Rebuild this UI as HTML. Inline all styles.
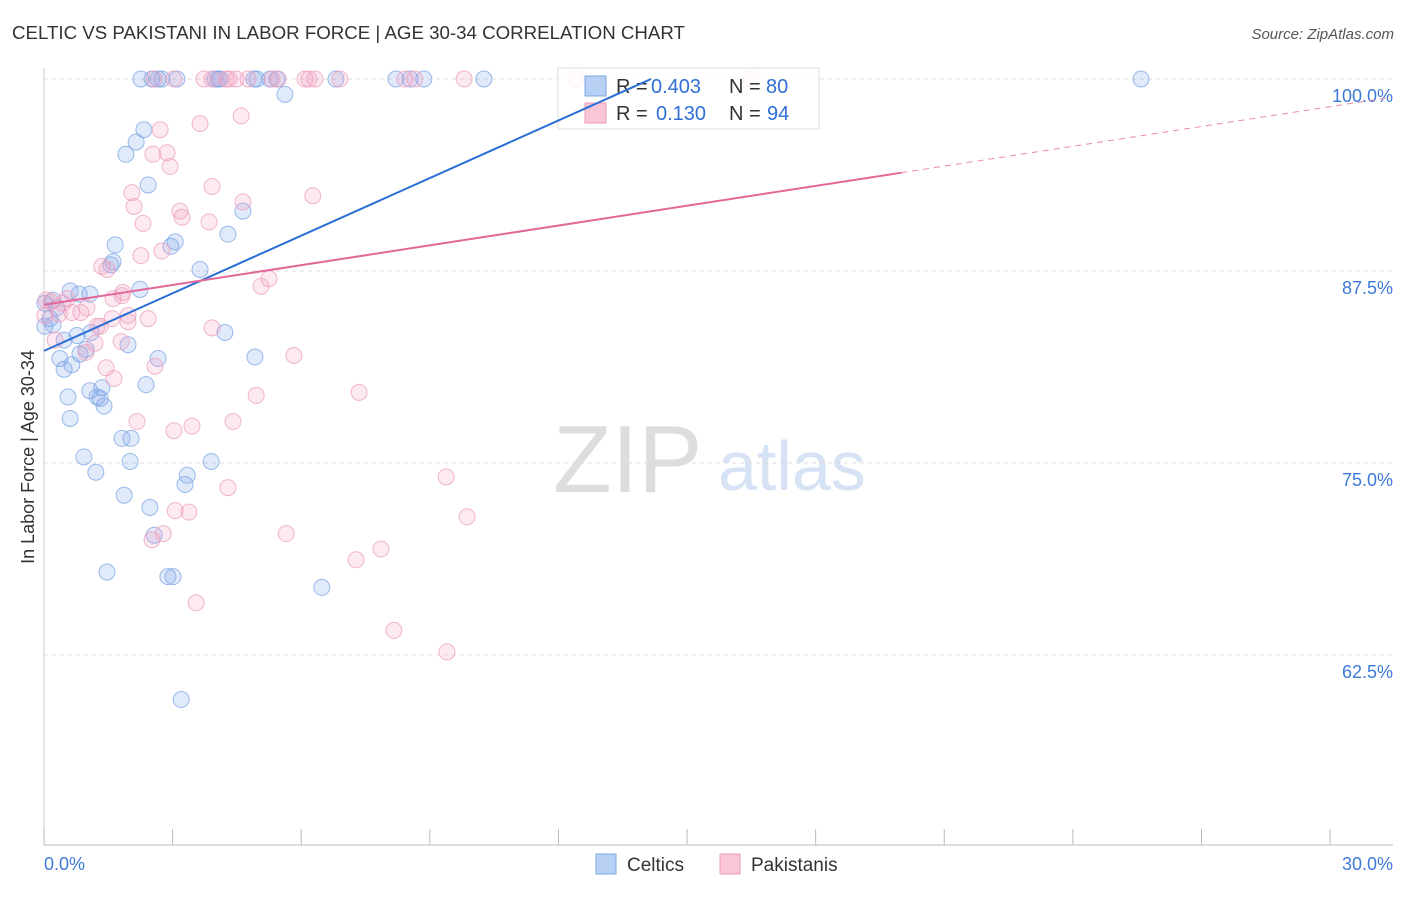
<!DOCTYPE html>
<html><head><meta charset="utf-8">
<style>
body{margin:0;background:#fff;font-family:"Liberation Sans",sans-serif;}
svg text{font-family:"Liberation Sans",sans-serif;}
</style></head>
<body>
<svg id="chart" width="1406" height="892" xmlns="http://www.w3.org/2000/svg">
<text x="12" y="39" font-size="18.7" fill="#333">CELTIC VS PAKISTANI IN LABOR FORCE | AGE 30-34 CORRELATION CHART</text>
<text x="1394" y="39" font-size="15" fill="#555" text-anchor="end" font-style="italic">Source: ZipAtlas.com</text>
<text transform="translate(34,457) rotate(-90)" font-size="18" fill="#333" text-anchor="middle">In Labor Force | Age 30-34</text>
<g><text x="553" y="492" font-size="96" fill="#ddd" font-family="Liberation Serif,serif">ZIP</text><text x="718" y="490" font-size="70" fill="#d6e3f5">atlas</text></g>
<g id="grid"></g>
<g id="axes"></g>
<g id="pts"></g>
<g>
<rect x="558" y="68" width="261" height="61" fill="#fff" fill-opacity="0.85" stroke="#ddd"/>
<rect x="585" y="76" width="21" height="20" fill="#b8d0f4" stroke="#7ea6e6"/>
<rect x="585" y="103" width="21" height="20" fill="#f8c6d6" stroke="#eb98b5"/>
<text x="616" y="93" font-size="20" fill="#333">R =</text>
<text x="651" y="93" font-size="20" fill="#2f6fd6">0.403</text>
<text x="729" y="93" font-size="20" fill="#333">N =</text>
<text x="766" y="93" font-size="20" fill="#2f6fd6">80</text>
<text x="616" y="120" font-size="20" fill="#333">R =</text>
<text x="656" y="120" font-size="20" fill="#2f6fd6">0.130</text>
<text x="729" y="120" font-size="20" fill="#333">N =</text>
<text x="767" y="120" font-size="20" fill="#2f6fd6">94</text>
</g>
<g id="trend"></g>
<g>
<rect x="596" y="854" width="20" height="20" fill="#b8d0f4" stroke="#7ea6e6"/>
<text x="627" y="871" font-size="19" fill="#333">Celtics</text>
<rect x="720" y="854" width="20" height="20" fill="#f8c6d6" stroke="#eb98b5"/>
<text x="751" y="871" font-size="19" fill="#333">Pakistanis</text>
</g>
</svg>
<script>
const yTicks=[100,87.5,75,62.5];
const xTickVals=[0,3,6,9,12,15,18,21,24,27,30];
const blueX=[2.26,2.52,2.66,2.75,3.10,3.99,4.06,4.11,4.90,4.97,5.27,5.43,6.81,8.21,8.54,8.86,10.26,25.59,5.62,2.33,2.15,1.91,2.43,4.64,4.29,3.06,2.96,1.66,1.61,1.56,3.64,2.24,0.61,0.82,1.07,0.21,0.02,0.30,0.14,0.21,0.02,4.22,0.77,1.10,0.47,1.96,0.98,0.84,2.66,4.92,0.37,0.65,0.47,2.38,1.35,1.07,0.56,1.24,1.31,1.40,0.61,1.82,2.03,0.93,2.01,3.90,3.34,1.21,3.29,1.87,2.47,2.57,1.47,2.89,3.01,6.48,3.20];
const blueY=[100,100,100,100,100,100,100,100,100,100,100,100,100,100,100,100,100,100,99.0,96.7,95.9,95.1,93.1,91.4,89.9,89.4,89.1,89.2,88.1,87.9,87.6,86.3,86.2,86.0,86.0,85.6,85.4,85.1,84.4,84.0,83.9,83.5,83.3,83.5,83.0,82.7,82.4,82.1,81.8,81.9,81.8,81.4,81.1,80.1,79.9,79.7,79.3,79.3,79.2,78.7,77.9,76.6,76.6,75.4,75.1,75.1,74.2,74.4,73.6,72.9,72.1,70.3,67.9,67.6,67.6,66.9,59.6];
const pinkX=[2.57,3.03,3.73,3.92,4.25,4.32,4.48,4.76,5.32,5.46,6.09,6.18,6.32,6.90,8.42,8.65,9.80,12.41,16.49,3.64,4.60,2.71,2.54,2.87,2.94,3.92,2.05,2.10,6.27,4.64,3.17,3.22,3.85,2.31,2.75,2.26,1.35,1.47,5.25,5.06,1.82,1.61,1.84,0.05,0.16,0.44,0.54,1.00,0.86,0.65,0.35,0.02,1.96,1.96,2.43,1.59,3.92,1.24,1.19,1.80,5.83,0.98,2.59,1.45,1.63,7.35,4.95,2.17,4.41,3.03,3.45,3.06,3.38,4.29,9.38,9.87,2.52,2.78,5.65,7.86,7.28,3.55,8.16,9.40,0.26,1.31];
const pinkY=[100,100,100,100,100,100,100,100,100,100,100,100,100,100,100,100,100,100,100,97.1,97.6,96.7,95.1,95.2,94.3,93.0,92.6,91.7,92.4,92.0,91.4,91.0,90.7,90.6,88.8,88.5,87.8,87.6,87.0,86.5,85.9,85.7,86.1,85.6,85.5,85.4,85.7,85.1,84.8,84.8,84.7,84.6,84.6,84.2,84.4,84.4,83.8,83.9,82.8,82.9,82.0,82.2,81.3,81.2,80.5,79.6,79.4,77.7,77.7,77.1,77.4,71.9,71.8,73.4,74.1,71.5,70.0,70.4,70.4,69.4,68.7,65.9,64.1,62.7,83.0,83.9];
const blueTrend=[82.3,1.25]; // intercept, slope
const pinkTrend=[85.3,0.43];
const X=v=>44+v*42.87, Y=v=>79+(100-v)*15.36;
const NS="http://www.w3.org/2000/svg";
function mk(tag,attrs,parent){const e=document.createElementNS(NS,tag);for(const k in attrs)e.setAttribute(k,attrs[k]);document.getElementById(parent).appendChild(e);return e;}
yTicks.forEach(t=>{
 const l=mk('line',{x1:44,x2:1393,y1:Y(t),y2:Y(t),stroke:'#ddd','stroke-dasharray':'4,4'},'grid');
 
 
 const tx=mk('text',{x:1393,y:Y(t)+23,'font-size':18,fill:'#3d7ad8','text-anchor':'end'},'grid');
 tx.textContent=t.toFixed(1)+'%';
 
 
});
mk('line',{x1:44,x2:44,y1:68,y2:845,stroke:'#ccc'},'axes');
const xa=mk('line',{x1:44,x2:1393,y1:845,y2:845,stroke:'#bbb'},'axes');


xTickVals.forEach(t=>{const tk=mk('line',{x1:X(t),x2:X(t),y1:829,y2:845,stroke:'#bbb'},'axes');
 
 });
const l0=mk('text',{x:44,y:870,'font-size':18,fill:'#3d7ad8'},'axes');l0.textContent=xTickVals[0].toFixed(1)+'%';


const l1=mk('text',{x:1393,y:870,'font-size':18,fill:'#3d7ad8','text-anchor':'end'},'axes');l1.textContent=xTickVals[10].toFixed(1)+'%';


function dots(xs,ys,fill,stroke,name){xs.forEach((x,i)=>{const c=mk('circle',{cx:X(x),cy:Y(ys[i]),r:8,fill:fill,stroke:stroke,'stroke-width':1,'stroke-opacity':0.75},'pts');
 
 });}
dots(blueX,blueY,'rgba(120,160,230,0.22)','#7ba4e4','celtics-point');
dots(pinkX,pinkY,'rgba(240,155,190,0.22)','#ec9fbc','pakistanis-point');
const bx2=(100-blueTrend[0])/blueTrend[1];
const bt=mk('line',{x1:X(0),y1:Y(blueTrend[0]),x2:X(bx2),y2:Y(100),stroke:'#2a6fd6','stroke-width':2},'trend');


const pt=mk('line',{x1:X(0),y1:Y(pinkTrend[0]),x2:X(20),y2:Y(pinkTrend[0]+20*pinkTrend[1]),stroke:'#e2689a','stroke-width':2},'trend');


const pd=mk('line',{x1:X(20),y1:Y(pinkTrend[0]+20*pinkTrend[1]),x2:X(31.4),y2:Y(pinkTrend[0]+31.4*pinkTrend[1]),stroke:'#e88aaf','stroke-width':1,'stroke-dasharray':'6,5'},'trend');


</script>
</body></html>
